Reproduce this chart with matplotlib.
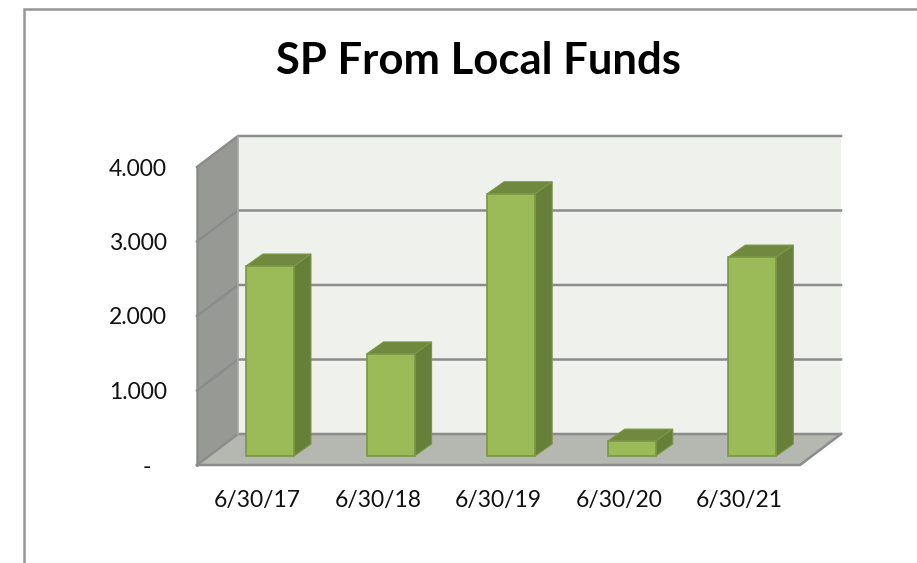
import matplotlib
matplotlib.use('Agg')
import matplotlib.pyplot as plt
from matplotlib.patches import Polygon

### DATA ###
categories = ['6/30/17', '6/30/18', '6/30/19', '6/30/20', '6/30/21']
values = [2.55, 1.37, 3.52, 0.20, 2.67]
y_ticks = [0, 1, 2, 3, 4]
y_labels = ['-', '1.000', '2.000', '3.000', '4.000']
title = 'SP From Local Funds'

### LAYOUT ###
W, H = 917, 563
x0_px, y0_px = 197, 465       # front corner of the floor
x_unit = 120.6                # px per category
y_unit = 74.5                 # px per 1.000
depth_x = 41 / x_unit
depth_y = 31 / y_unit
bar_w = 48 / x_unit
bar_dx = 17 / x_unit
bar_dy = 12 / y_unit
bar_shift = 0.105
bar_base = 9 / y_unit

plt.rcParams['font.family'] = ['Lato', 'DejaVu Sans']

fig = plt.figure(figsize=(W / 100, H / 100), dpi=100)
ax = fig.add_axes([0, 0, 1, 1])
ax.set_xlim(-x0_px / x_unit, (W - x0_px) / x_unit)
ax.set_ylim((y0_px - H) / y_unit, y0_px / y_unit)
ax.axis('off')

n = len(categories)
top = max(y_ticks)
grid_col = '#8C8C8C'

# back wall, runs a bit past the floor on the right
wall_right = n + depth_x
ax.add_patch(Polygon([(depth_x, depth_y), (wall_right, depth_y),
                      (wall_right, top + depth_y), (depth_x, top + depth_y)],
                     fc='#EFF2EC', ec='none', zorder=1))
# left wall
ax.add_patch(Polygon([(0, 0), (depth_x, depth_y), (depth_x, top + depth_y), (0, top)],
                     fc='#979A94', ec='none', zorder=1))
# floor
ax.add_patch(Polygon([(0, 0), (n, 0), (n + depth_x, depth_y), (depth_x, depth_y)],
                     fc='#B5B8B1', ec='none', zorder=1))

# gridlines
for t in y_ticks:
    ax.plot([0, depth_x, wall_right], [t, t + depth_y, t + depth_y],
            color=grid_col, lw=1.8, zorder=2, solid_joinstyle='miter')
ax.plot([depth_x, depth_x], [depth_y, top + depth_y], color='#A6A8A4', lw=1.2, zorder=2)
ax.plot([0, 0], [0, top], color=grid_col, lw=1.8, zorder=2)
ax.plot([0, n, n + depth_x], [0, 0, depth_y], color=grid_col, lw=1.8, zorder=2)

# bars
for i, v in enumerate(values):
    x1 = i + 0.5 + bar_shift - bar_w / 2
    x2 = x1 + bar_w
    y1 = bar_base
    y2 = bar_base + v
    ax.add_patch(Polygon([(x1, y2), (x2, y2), (x2 + bar_dx, y2 + bar_dy), (x1 + bar_dx, y2 + bar_dy)],
                         fc='#71893F', ec='#7C9645', lw=0.8, zorder=3))
    ax.add_patch(Polygon([(x2, y1), (x2 + bar_dx, y1 + bar_dy), (x2 + bar_dx, y2 + bar_dy), (x2, y2)],
                         fc='#66803A', ec='#7C9645', lw=0.8, zorder=3))
    ax.add_patch(Polygon([(x1, y1), (x2, y1), (x2, y2), (x1, y2)],
                         fc='#9BBB59', ec='#7C9645', lw=1.2, zorder=4))
    ax.text(i + 0.5, -36 / y_unit, categories[i], ha='center', va='center',
            fontsize=16.5, color='#111111')

# y labels
for t, lab in zip(y_ticks, y_labels):
    lab_x = -30 / x_unit
    if lab == '-':
        lab_x = -46 / x_unit
    ax.text(lab_x, t - 2 / y_unit, lab, ha='right', va='center', fontsize=16.5, color='#111111')

# chart area border
ax.plot([-173 / x_unit, -173 / x_unit, (W - x0_px) / x_unit],
        [(y0_px - H) / y_unit, (y0_px - 9) / y_unit, (y0_px - 9) / y_unit],
        color='#969696', lw=1.8, zorder=2, solid_joinstyle='miter', clip_on=False)

ax.text((478 - x0_px) / x_unit, (y0_px - 61) / y_unit, title, ha='center', va='center',
        fontsize=31.4, fontweight='bold', color='black')

fig.savefig('out.png', dpi=100)
